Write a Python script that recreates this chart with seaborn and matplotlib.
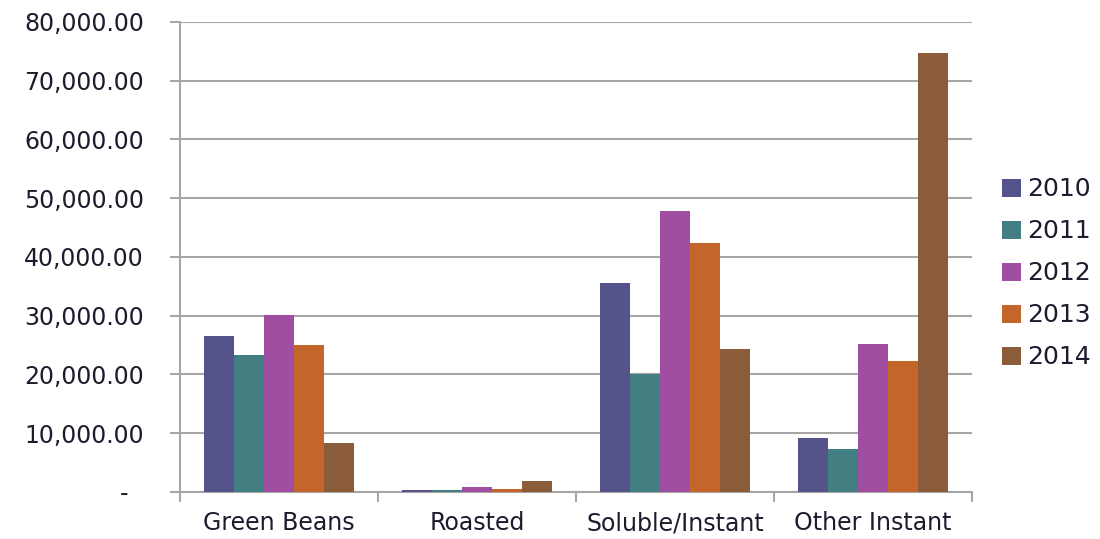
import matplotlib
matplotlib.use("Agg")
import matplotlib.pyplot as plt
from matplotlib.ticker import FuncFormatter, FixedLocator
import seaborn as sns
import pandas as pd

categories = ["Green Beans", "Roasted", "Soluble/Instant", "Other Instant"]
years = ["2010", "2011", "2012", "2013", "2014"]
values_2010 = [26500, 300, 35500, 9200]
values_2011 = [23300, 300, 20000, 7400]
values_2012 = [30200, 800, 47800, 25200]
values_2013 = [25000, 500, 42400, 22300]
values_2014 = [8400, 1800, 24300, 74700]
colors = ["#55548A", "#427E82", "#A04EA2", "#C4652C", "#8B5C3A"]

series = [values_2010, values_2011, values_2012, values_2013, values_2014]
df = pd.DataFrame(
    [(cat, yr, vals[i]) for yr, vals in zip(years, series) for i, cat in enumerate(categories)],
    columns=["category", "year", "value"],
)

sns.set_theme(style="white")
plt.rcParams["font.family"] = ["DejaVu Sans"]
text_color = "#1c1c2e"
grid_color = "#a6a6a6"

fig = plt.figure(figsize=(11, 5.39), dpi=100)
ax = fig.add_axes([0.1636, 0.0872, 0.72, 0.872])

sns.barplot(data=df, x="category", y="value", hue="year", order=categories,
            hue_order=years, palette=colors, width=0.76, gap=0,
            saturation=1, edgecolor="none", linewidth=0, ax=ax, zorder=3)

ax.set_ylim(0, 80000)
ax.set_xlim(-0.5, 3.5)
ax.set_yticks(range(0, 80001, 10000))
# accounting style: zero shown as a dash
ax.yaxis.set_major_formatter(FuncFormatter(lambda v, p: "-  " if v == 0 else f"{v:,.2f}"))
ax.grid(axis="y", color=grid_color, linewidth=1.5, zorder=0)
ax.set_axisbelow(True)

for side in ["top", "right"]:
    ax.spines[side].set_visible(False)
for side in ["left", "bottom"]:
    ax.spines[side].set_color(grid_color)
    ax.spines[side].set_linewidth(1.5)

ax.tick_params(axis="y", which="major", direction="out", length=7, width=1.5,
               color=grid_color, left=True, pad=19, labelsize=17, labelcolor=text_color)
ax.tick_params(axis="x", which="major", length=0, pad=14, labelsize=17, labelcolor=text_color)
ax.xaxis.set_minor_locator(FixedLocator([-0.5, 0.5, 1.5, 2.5, 3.5]))
ax.tick_params(axis="x", which="minor", direction="out", length=7, width=1.5,
               color=grid_color, bottom=True)

ax.set_xlabel("")
ax.set_ylabel("")

leg = ax.legend(loc="center left", bbox_to_anchor=(1.01, 0.465), frameon=False,
                fontsize=18, handlelength=0.75, handleheight=0.75, handletextpad=0.25,
                labelspacing=0.72, title=None)
for t in leg.get_texts():
    t.set_color(text_color)

fig.savefig("out.png", dpi=100)
